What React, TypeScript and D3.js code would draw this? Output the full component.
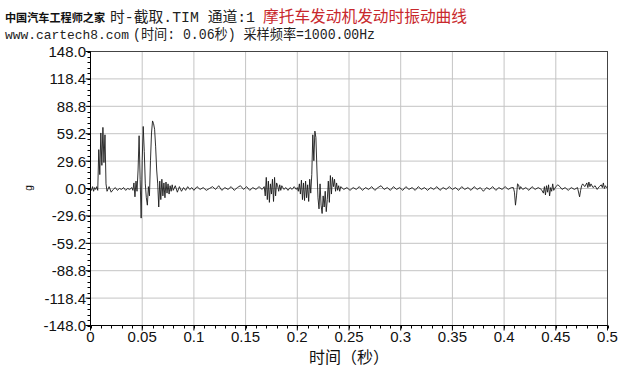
import React from "react";
import * as d3 from "d3";

// sample time (ms) and acceleration (g)
const timeMs = [
  0, 1, 2, 3, 4, 5, 6, 7, 8, 9, 10, 11, 12, 13, 14, 15, 16,
  18, 20, 22, 24, 26, 28, 30, 32, 34, 36, 38,
  40, 41, 42, 43, 44, 45, 46, 47, 48, 49, 50, 51, 52, 53, 54, 55, 56, 57, 58, 59,
  60, 61, 62, 63, 64, 65, 66, 67, 68, 69, 70, 71, 72, 73, 74, 75, 76, 77, 78, 79, 80,
  82, 84, 86, 88, 90, 92, 94, 96, 98, 100, 103, 106, 109, 112, 115, 118, 121, 124, 127,
  130, 133, 136, 139, 142, 145, 148, 151, 154, 157, 160, 163, 166,
  168, 169, 170, 171, 172, 173, 174, 175, 176, 177, 178, 179, 180, 181, 182, 183, 184, 185,
  187, 189, 191, 193, 195, 197, 199,
  200, 201, 202, 203, 204, 205, 206, 207, 208, 209, 210, 211, 212, 213, 214, 215, 216, 217, 218, 219,
  220, 221, 222, 223, 224, 225, 226, 227, 228, 229, 230, 231, 232, 233, 234, 235, 236, 237, 238, 239,
  240, 241, 242, 245, 248, 251, 254, 257, 260, 263, 266, 269, 272, 275, 278, 281, 284, 287, 290,
  293, 296, 299, 302, 305, 308, 311, 314, 317, 320, 323, 326, 329, 332, 335, 338, 341, 344, 347,
  350, 353, 356, 359, 362, 365, 368, 371, 374, 377, 380, 383, 386, 389, 392, 395, 398, 401, 404, 407,
  409, 410, 411, 412, 413, 414, 415, 416, 418, 421, 424, 427, 430, 433, 436,
  438, 439, 440, 441, 442, 443, 444, 445, 446, 447, 448, 450, 452, 454, 456, 459, 462, 465, 468, 471,
  473, 474, 475, 476, 478, 480, 481, 482, 483, 484, 486, 488, 490, 492, 494, 495, 496, 497, 498, 499, 500,
];
const accel = [
  0, -2, 2, -3, 1, -1, 2, -2, 42, 15, 60, 25, 66, 28, 58, 5, -3,
  2, -4, -1, 1, -2, 0, -1, 1, -2, 0, -1,
  1, -2, 6, -9, 8, -3, 20, 57, 10, -32, 30, 67, 40, 5, -10, -18, 2, -8, 30, 60,
  73, 70, 64, 45, 20, 5, -20, 8, -12, 10, -8, 6, -10, 7, -5, 5, -6, 3, -3, 4, -2,
  3, -4, 2, -3, 1, -2, 2, -1, 1, -2, 2, -1, 1, -2, 0, 2, -1, 3, -2,
  1, -1, 2, -2, 1, 3, -1, 2, -2, 1, -1, 2, -1,
  2, -8, 12, -12, 8, -15, 5, -6, 10, -14, 12, -8, 6, 3, -3, 4, -2, 3,
  -1, 1, -2, 1, -1, 2, -1,
  1, -3, 5, -6, 9, -12, 6, -13, 8, -10, 4, -14, 10, -5, 15, 58, 30, 62, 55, 20,
  -10, -22, 5, -18, -27, -8, -20, -3, -25, -12, 8, -15, 14, -6, 12, 2, 10, -3, 6, -2,
  3, -3, 2, -1, 1, -2, 1, -1, 2, -2, 1, -1, 2, -2, 1, 3, -1, 1, -2,
  2, -1, 1, -2, 2, -1, 1, -2, 2, -1, 1, -2, 1, -1, 2, -2, 1, -1, 2,
  -1, 1, -2, 2, -1, 1, -2, 2, -1, 1, -3, 1, -1, 2, -2, 1, -1, 2, -1, 1,
  1, -4, -18, -8, 5, 4, -1, 2, -1, 1, -2, 2, -1, 1, -1,
  -5, 2, -7, 3, -4, 4, -8, 1, -3, 5, -2, 2, 4, 2, -1, 1, -2, 1, -1, 1,
  -9, -2, 3, 5, 2, 6, 1, 7, 2, 5, 1, 3, -1, 2, 4, 1, 6, 0, 3, 1, 2,
];

const yTicks = [-148.0, -118.4, -88.8, -59.2, -29.6, 0.0, 29.6, 59.2, 88.8, 118.4, 148.0];
const yTickLabels = ["-148.0", "-118.4", "-88.8", "-59.2", "-29.6", "0.0", "29.6", "59.2", "88.8", "118.4", "148.0"];
const xTicks = [0, 0.05, 0.1, 0.15, 0.2, 0.25, 0.3, 0.35, 0.4, 0.45, 0.5];
const xTickLabels = ["0", "0.05", "0.1", "0.15", "0.2", "0.25", "0.3", "0.35", "0.4", "0.45", "0.5"];

const header1Watermark = "中国汽车工程师之家";
const header1Text = "时-截取.TIM 通道:1";
const header2Watermark = "www.cartech8.com";
const header2Text = "(时间: 0.06秒) 采样频率=1000.00Hz";
const chartTitle = "摩托车发动机发动时振动曲线";
const xTitle = "时间（秒）";
const yTitle = "g";

export default function App() {
  const W = 640, H = 377;
  const x = d3.scaleLinear().domain([0, 0.5]).range([90.5, 607.5]);
  const y = d3.scaleLinear().domain([-148, 148]).range([325.5, 51.5]);

  const line = d3
    .line<number>()
    .x((_, i) => x(timeMs[i] / 1000))
    .y((d) => y(d));

  const yMinor = d3.range(-148, 148.01, 5.92);
  const xMinor = d3.range(0, 0.5001, 0.01);

  const tickFont = "Liberation Sans, Arial, sans-serif";
  const cjkFont = "'Noto Sans CJK SC', sans-serif";
  const headFont = "'Liberation Mono', 'Noto Sans CJK SC', monospace";

  return (
    <svg
      width={W}
      height={H}
      style={{ position: "absolute", left: 0, top: 0, background: "#fff" }}
    >
      <rect x={0} y={0} width={W} height={H} fill="#fff" />
      {/* header */}
      <text x={5} y={22} fontFamily={cjkFont} fontSize={11.5} fontWeight={700} fill="#111" textLength={100} lengthAdjust="spacingAndGlyphs">
        {header1Watermark}
      </text>
      <text x={110} y={22} fontFamily={headFont} fontSize={15} fill="#222" textLength={145} lengthAdjust="spacingAndGlyphs">
        {header1Text}
      </text>
      <text x={263} y={22} fontFamily={cjkFont} fontSize={16} fill="#c8282d" textLength={204} lengthAdjust="spacingAndGlyphs">
        {chartTitle}
      </text>
      <text x={5} y={39} fontFamily={headFont} fontSize={13} fill="#222" textLength={124} lengthAdjust="spacingAndGlyphs">
        {header2Watermark}
      </text>
      <text x={133} y={39} fontFamily={headFont} fontSize={14} fill="#222" textLength={242} lengthAdjust="spacingAndGlyphs">
        {header2Text}
      </text>

      {/* grid */}
      {yTicks.map((t, i) => (
        <line key={"gy" + i} x1={x(0)} x2={x(0.5)} y1={y(t)} y2={y(t)} stroke="#c4c4c4" strokeWidth={1} />
      ))}
      {xTicks.map((t, i) => (
        <line key={"gx" + i} x1={x(t)} x2={x(t)} y1={y(148)} y2={y(-148)} stroke="#c4c4c4" strokeWidth={1} />
      ))}

      {/* frame */}
      <rect x={x(0)} y={y(148)} width={x(0.5) - x(0)} height={y(-148) - y(148)} fill="none" stroke="#444" strokeWidth={1} />
      <line x1={x(0)} x2={x(0)} y1={y(148)} y2={y(-148)} stroke="#000" />
      <line x1={x(0)} x2={x(0.5)} y1={y(-148)} y2={y(-148)} stroke="#000" />

      {/* y ticks */}
      {yMinor.map((t, i) => (
        <line key={"my" + i} x1={x(0) - 3} x2={x(0)} y1={Math.round(y(t)) + 0.5} y2={Math.round(y(t)) + 0.5} stroke="#000" />
      ))}
      {yTicks.map((t, i) => (
        <g key={"ty" + i}>
          <line x1={x(0) - 5} x2={x(0)} y1={y(t)} y2={y(t)} stroke="#000" />
          <text x={86} y={y(t)} dy="0.36em" textAnchor="end" fontFamily={tickFont} fontSize={15} fill="#111">
            {yTickLabels[i]}
          </text>
        </g>
      ))}

      {/* x ticks */}
      {xMinor.map((t, i) => (
        <line key={"mx" + i} x1={Math.round(x(t)) + 0.5} x2={Math.round(x(t)) + 0.5} y1={y(-148)} y2={y(-148) + 3} stroke="#000" />
      ))}
      {xTicks.map((t, i) => (
        <g key={"tx" + i}>
          <line x1={x(t)} x2={x(t)} y1={y(-148)} y2={y(-148) + 5} stroke="#000" />
          <text x={x(t)} y={342} textAnchor="middle" fontFamily={tickFont} fontSize={15} fill="#111">
            {xTickLabels[i]}
          </text>
        </g>
      ))}

      {/* axis titles */}
      <text x={349} y={363} textAnchor="middle" fontFamily={cjkFont} fontSize={16} fill="#111">
        {xTitle}
      </text>
      <text transform={`translate(32,188) rotate(-90)`} textAnchor="middle" fontFamily={tickFont} fontSize={10} fill="#111">
        {yTitle}
      </text>

      {/* signal */}
      <path d={line(accel) || ""} fill="none" stroke="#1a1a1a" strokeWidth={0.9} strokeLinejoin="round" />
    </svg>
  );
}
